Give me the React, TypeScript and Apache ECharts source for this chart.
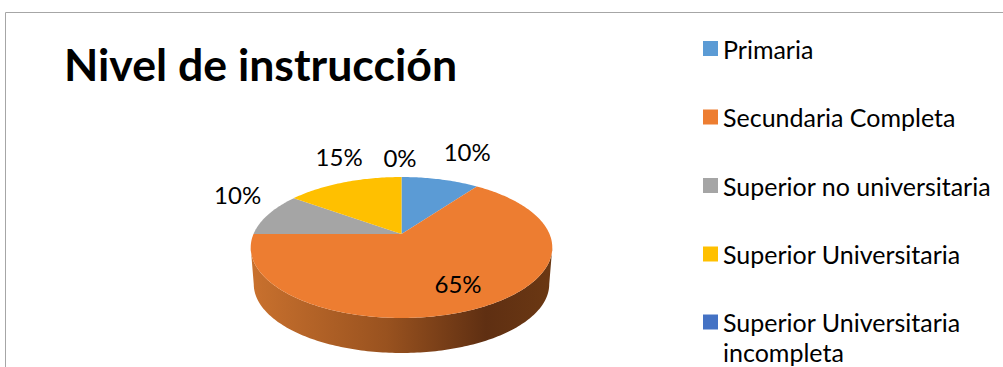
import React, { useEffect, useRef } from "react";
import * as echarts from "echarts";

const titleText = "Nivel de instrucción";
const categories = [
  "Primaria",
  "Secundaria Completa",
  "Superior no universitaria",
  "Superior Universitaria",
  "Superior Universitaria incompleta",
];
const percentages = [10, 65, 10, 15, 0];
const colors = ["#5B9BD5", "#ED7D31", "#A5A5A5", "#FFC000", "#4472C4"];
// label nudges from the rim point at each slice's mid-angle (px)
const labelNudges = [
  [27, -28],
  [-24.5, -23],
  [-31, -20],
  [-5, -26],
  [-1.5, -20],
];

const CX = 401.5;
const APEX_Y = 234;
const TOP = { rx: 148, ry: 67.9, y: APEX_Y };
const BOTTOM = { rx: 145, ry: 66.3, y: 271 };
const K = 0.1915;
const WALL_FROM = 101;
const WALL_TO = 259;
const total = percentages.reduce((a, b) => a + b, 0);

function project(deg: number, e: { rx: number; ry: number; y: number }) {
  const t = (deg * Math.PI) / 180;
  const u = Math.sin(t);
  const v = Math.cos(t);
  const d = 1 + K * v;
  return [CX + (e.rx * u) / d, e.y - (e.ry * v) / d];
}

function arc(from: number, to: number, e: { rx: number; ry: number; y: number }) {
  const n = Math.max(2, Math.ceil(Math.abs(to - from)));
  const pts: number[][] = [];
  for (let i = 0; i <= n; i++) pts.push(project(from + ((to - from) * i) / n, e));
  return pts;
}

const wallFill = () =>
  new echarts.graphic.LinearGradient(0, 0, 1, 0, [
    { offset: 0, color: "#C9712E" },
    { offset: 0.45, color: "#99521F" },
    { offset: 0.78, color: "#5F2F12" },
    { offset: 1, color: "#6B3813" },
  ]);

function makeSeries(idx: number) {
  return {
    type: "custom",
    name: categories[idx],
    coordinateSystem: "none",
    itemStyle: { color: colors[idx] },
    data: [[percentages[idx]]],
    silent: true,
    renderItem: (_p: any, api: any) => {
      const value = api.value(0) as number;
      const before = percentages.slice(0, idx).reduce((a, b) => a + b, 0);
      const a0 = (before / total) * 360;
      const a1 = ((before + value) / total) * 360;
      const children: any[] = [];
      const wa = Math.max(a0, WALL_FROM);
      const wb = Math.min(a1, WALL_TO);
      if (wb > wa) {
        children.push({
          type: "polygon",
          shape: { points: [...arc(wa, wb, TOP), ...arc(wb, wa, BOTTOM)] },
          style: { fill: wallFill() },
        });
      }
      if (a1 > a0) {
        children.push({
          type: "polygon",
          shape: { points: [[CX, APEX_Y], ...arc(a0, a1, TOP)] },
          style: { fill: colors[idx] },
        });
      }
      const rim = project((a0 + a1) / 2, TOP);
      const nudge = labelNudges[idx];
      children.push({
        type: "text",
        z2: 10,
        style: {
          text: `${value}%`,
          x: rim[0] + nudge[0],
          y: rim[1] + nudge[1],
          align: "center",
          verticalAlign: "middle",
          fill: "#000000",
          font: '24px Lato, "Open Sans", sans-serif',
        },
      });
      return { type: "group", children };
    },
  };
}

const legendBase = {
  orient: "vertical",
  left: 703,
  padding: 0,
  itemWidth: 15,
  itemHeight: 15,
  icon: "rect",
  selectedMode: false,
  itemStyle: { borderWidth: 0 },
  textStyle: {
    color: "#000000",
    fontFamily: 'Lato, "Open Sans", sans-serif',
    fontSize: 25,
    lineHeight: 33,
  },
};

export default function App() {
  const ref = useRef<HTMLDivElement>(null);
  useEffect(() => {
    document.body.style.margin = "0";
    const chart = echarts.init(ref.current!, null, { renderer: "svg" });
    chart.setOption({
      animation: false,
      backgroundColor: "#FFFFFF",
      title: {
        text: titleText,
        left: 64,
        top: 41,
        padding: 0,
        textStyle: {
          color: "#000000",
          fontFamily: 'Lato, "Open Sans", sans-serif',
          fontWeight: "bold",
          fontSize: 44.6,
        },
      },
      legend: [
        {
          ...legendBase,
          top: 32,
          itemGap: 35.5,
          data: categories.slice(0, 4),
        },
        {
          ...legendBase,
          top: 277,
          data: categories.slice(4),
          textStyle: { ...legendBase.textStyle, lineHeight: 30 },
          formatter: () => "\nSuperior Universitaria\nincompleta",
        },
      ],
      graphic: [
        {
          type: "polyline",
          shape: { points: [[5.5, 367], [5.5, 12.5], [1003, 12.5]] },
          style: { stroke: "#A6A6A6", lineWidth: 1, fill: "none" },
        },
      ],
      series: categories.map((_, i) => makeSeries(i)),
    });
    return () => chart.dispose();
  }, []);
  return <div ref={ref} style={{ width: 1003, height: 367 }} />;
}
